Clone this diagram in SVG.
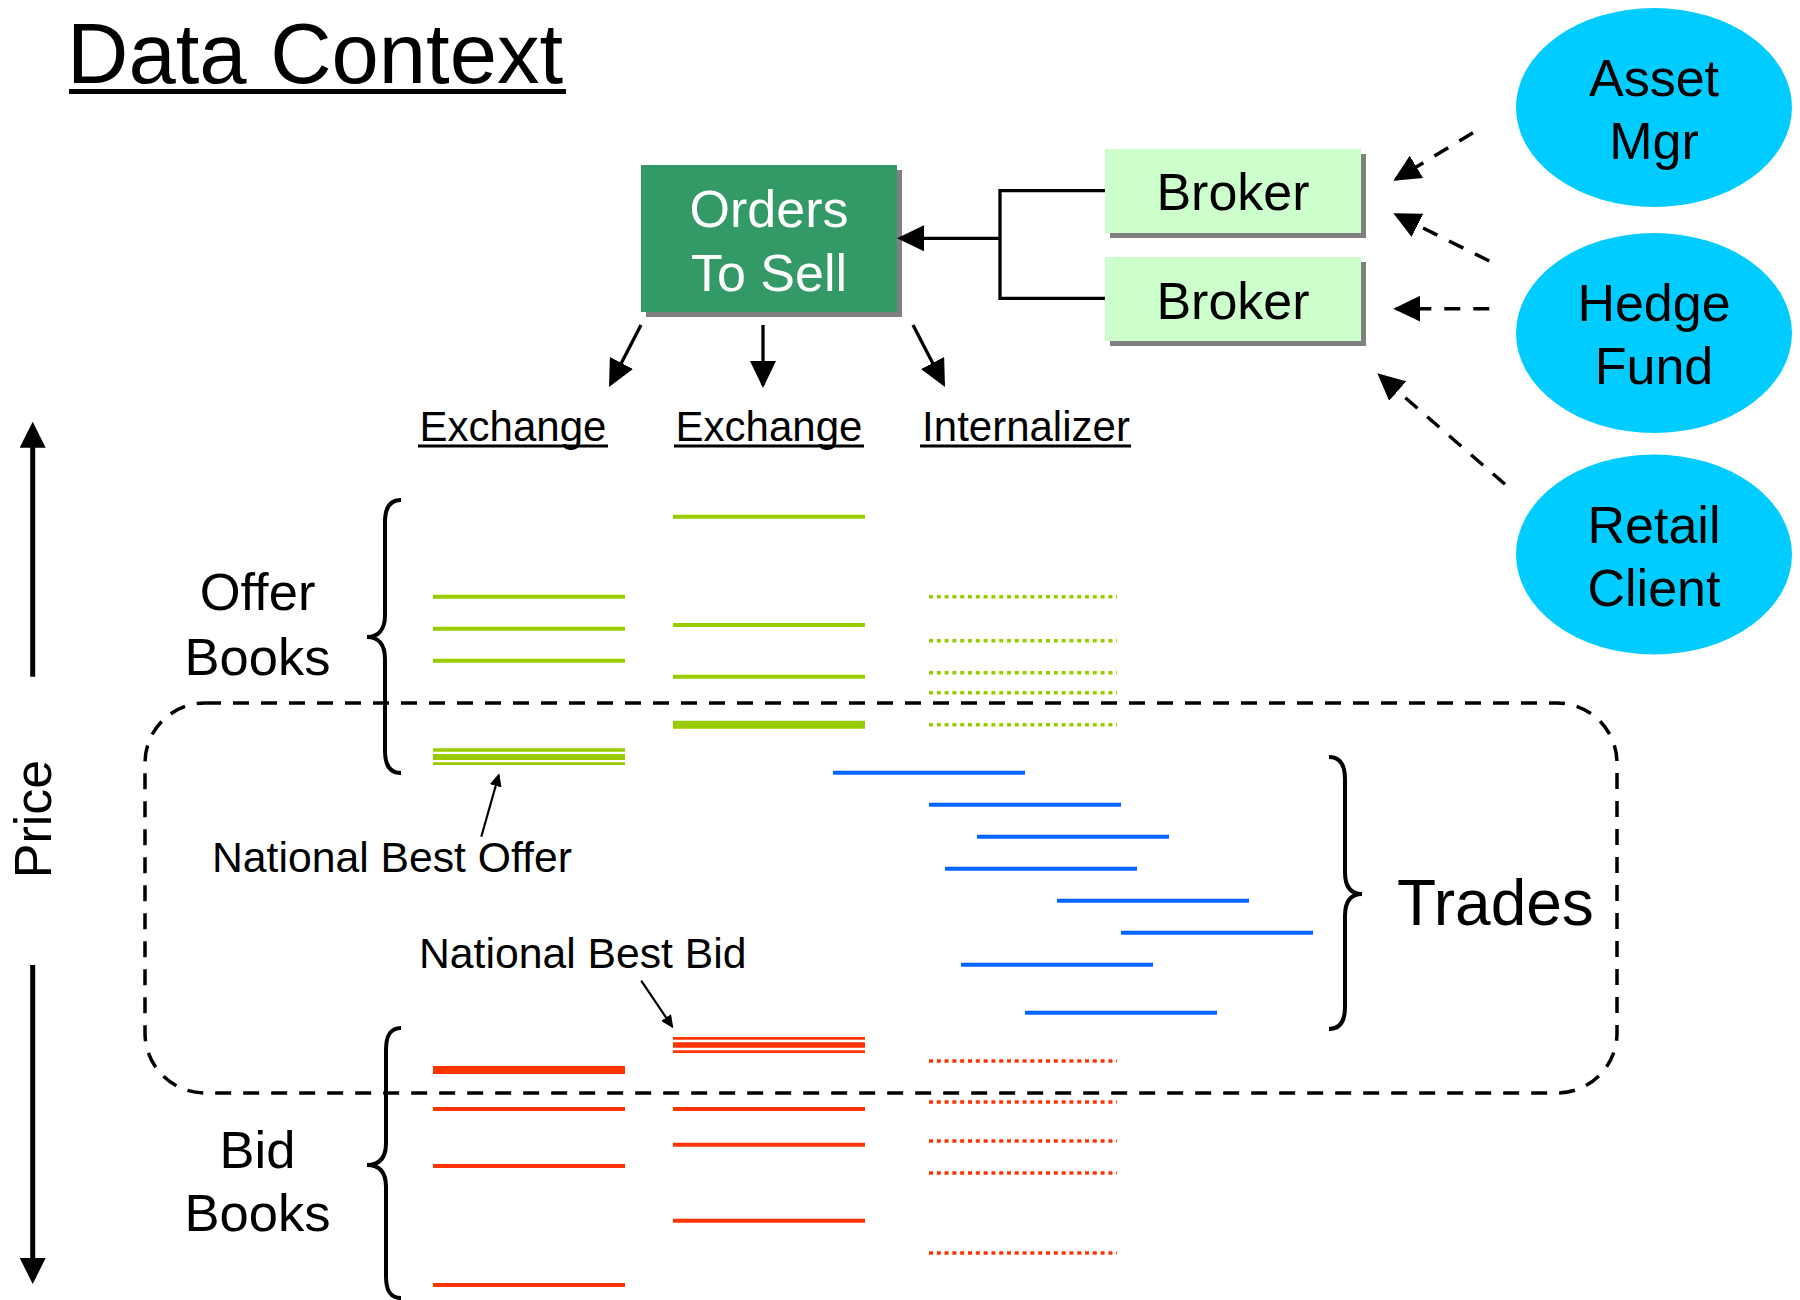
<svg xmlns="http://www.w3.org/2000/svg" width="1800" height="1300" viewBox="0 0 1800 1300">
<style>
text{font-family:"Liberation Sans",Arial,Helvetica,sans-serif;fill:#000}
.t52{font-size:52px}
.t42{font-size:42px}
.t43{font-size:42.7px}
.wt{fill:#fff}
.c{text-anchor:middle}
.conn{stroke:#000;stroke-width:3.3;fill:none}
.dash{stroke:#000;stroke-width:3.5;fill:none;stroke-dasharray:16 13}
.ul{stroke:#000;stroke-width:3}
.brace{stroke:#000;stroke-width:4;fill:none}
.g{stroke:#99CC00;stroke-width:4}
.r{stroke:#FF3300;stroke-width:4}
.b{stroke:#0066FF;stroke-width:4}
.dot{stroke-dasharray:4 3.8;stroke-width:3.5}
.shadow{fill:#808080}
.ell{fill:#00CCFF}
</style>
<defs>
<marker id="ah" viewBox="0 0 27 26" refX="24" refY="13" markerWidth="27" markerHeight="26" orient="auto" markerUnits="userSpaceOnUse"><path d="M0,0 L27,13 L0,26 z" fill="#000"/></marker>
<marker id="ahp" viewBox="0 0 26 26" refX="21" refY="13" markerWidth="26" markerHeight="26" orient="auto" markerUnits="userSpaceOnUse"><path d="M0,0 L26,13 L0,26 z" fill="#000"/></marker>
<marker id="ahs" viewBox="0 0 13 12" refX="11" refY="6" markerWidth="13" markerHeight="12" orient="auto" markerUnits="userSpaceOnUse"><path d="M0,0 L13,6 L0,12 z" fill="#000"/></marker>
</defs>
<rect width="1800" height="1300" fill="#fff"/>

<g id="title">
<text x="67" y="83" style="font-size:85px">Data Context</text>
<line x1="69" y1="91.5" x2="566" y2="91.5" stroke="#000" stroke-width="5"/>
</g>

<g id="orders-to-sell">
<rect class="shadow" x="646" y="170" width="256" height="147"/>
<rect x="641" y="165" width="256" height="147" fill="#339966"/>
<text class="t52 wt c" x="769" y="227">Orders</text>
<text class="t52 wt c" x="769" y="291">To Sell</text>
</g>

<g id="broker-1">
<rect class="shadow" x="1110" y="154" width="256" height="84"/>
<rect x="1105" y="149" width="256" height="84" fill="#CCFFCC"/>
<text class="t52 c" x="1233" y="210">Broker</text>
</g>
<g id="broker-2">
<rect class="shadow" x="1110" y="262" width="256" height="84"/>
<rect x="1105" y="257" width="256" height="84" fill="#CCFFCC"/>
<text class="t52 c" x="1233" y="318.5">Broker</text>
</g>

<g id="asset-mgr">
<ellipse class="ell" cx="1654" cy="107.5" rx="138" ry="99.5"/>
<text class="t52 c" x="1654" y="96">Asset</text>
<text class="t52 c" x="1654" y="159">Mgr</text>
</g>
<g id="hedge-fund">
<ellipse class="ell" cx="1654" cy="333" rx="138" ry="100"/>
<text class="t52 c" x="1654" y="321">Hedge</text>
<text class="t52 c" x="1654" y="384">Fund</text>
</g>
<g id="retail-client">
<ellipse class="ell" cx="1654" cy="554.5" rx="138" ry="100"/>
<text class="t52 c" x="1654" y="543">Retail</text>
<text class="t52 c" x="1654" y="606">Client</text>
</g>

<g id="venue-exchange-1">
<text class="t42 c" x="513" y="440.5">Exchange</text>
<line class="ul" x1="418" y1="446" x2="608" y2="446"/>
</g>
<g id="venue-exchange-2">
<text class="t42 c" x="769" y="440.5">Exchange</text>
<line class="ul" x1="674" y1="446" x2="864" y2="446"/>
</g>
<g id="venue-internalizer">
<text class="t42 c" x="1026" y="440.5">Internalizer</text>
<line class="ul" x1="920" y1="446" x2="1131" y2="446"/>
</g>

<g id="price-axis">
<text class="c" style="font-size:52px" transform="translate(51,819) rotate(-90)">Price</text>
</g>

<g id="offer-books">
<text class="c" style="font-size:52.5px" x="257.5" y="610">Offer</text>
<text class="c" style="font-size:52.5px" x="257.5" y="675">Books</text>
<path class="brace" d="M401,500 C390,500 385,508 385,522 L385,615 C385,630 378,637 367,637 C378,637 385,644 385,659 L385,751 C385,765 390,773 401,773"/>
</g>
<g id="bid-books">
<text class="c" style="font-size:52.5px" x="257.5" y="1168">Bid</text>
<text class="c" style="font-size:52.5px" x="257.5" y="1231">Books</text>
<path class="brace" d="M401,1028 C390,1028 386,1036 386,1050 L386,1143 C386,1158 379,1165 367,1165 C379,1165 386,1172 386,1187 L386,1276 C386,1290 390,1298 401,1298"/>
</g>
<g id="trades">
<text x="1397" y="925" style="font-size:64px">Trades</text>
<path class="brace" d="M1329,757 C1340,757 1345,765 1345,779 L1345,872 C1345,887 1351,894 1362,894 C1351,894 1345,901 1345,916 L1345,1007 C1345,1021 1340,1029 1329,1029"/>
</g>

<g id="offer-lines">
<line class="g" x1="433" y1="596.7" x2="625" y2="596.7"/>
<line class="g" x1="433" y1="628.7" x2="625" y2="628.7"/>
<line class="g" x1="433" y1="660.7" x2="625" y2="660.7"/>
<line class="g" x1="433" y1="750" x2="625" y2="750" style="stroke-width:3.4"/>
<line class="g" x1="433" y1="757" x2="625" y2="757" style="stroke-width:6"/>
<line class="g" x1="433" y1="763.7" x2="625" y2="763.7" style="stroke-width:2.7"/>
<line class="g" x1="673" y1="516.7" x2="865" y2="516.7"/>
<line class="g" x1="673" y1="625" x2="865" y2="625"/>
<line class="g" x1="673" y1="676.7" x2="865" y2="676.7"/>
<line class="g" x1="673" y1="724.7" x2="865" y2="724.7" style="stroke-width:8"/>
<line class="g dot" x1="929" y1="596.7" x2="1117" y2="596.7"/>
<line class="g dot" x1="929" y1="640.7" x2="1117" y2="640.7"/>
<line class="g dot" x1="929" y1="672.7" x2="1117" y2="672.7"/>
<line class="g dot" x1="929" y1="692.7" x2="1117" y2="692.7"/>
<line class="g dot" x1="929" y1="724.7" x2="1117" y2="724.7"/>
</g>

<g id="trade-lines">
<line class="b" x1="833" y1="772.7" x2="1025" y2="772.7"/>
<line class="b" x1="929" y1="804.7" x2="1121" y2="804.7"/>
<line class="b" x1="977" y1="836.7" x2="1169" y2="836.7"/>
<line class="b" x1="945" y1="868.7" x2="1137" y2="868.7"/>
<line class="b" x1="1057" y1="900.7" x2="1249" y2="900.7"/>
<line class="b" x1="1121" y1="932.7" x2="1313" y2="932.7"/>
<line class="b" x1="961" y1="964.7" x2="1153" y2="964.7"/>
<line class="b" x1="1025" y1="1012.7" x2="1217" y2="1012.7"/>
</g>

<g id="bid-lines">
<line class="r" x1="433" y1="1070" x2="625" y2="1070" style="stroke-width:8"/>
<line class="r" x1="433" y1="1109" x2="625" y2="1109"/>
<line class="r" x1="433" y1="1166" x2="625" y2="1166"/>
<line class="r" x1="433" y1="1285" x2="625" y2="1285"/>
<line class="r" x1="673" y1="1038.3" x2="865" y2="1038.3" style="stroke-width:2.7"/>
<line class="r" x1="673" y1="1045" x2="865" y2="1045" style="stroke-width:5.3"/>
<line class="r" x1="673" y1="1051.7" x2="865" y2="1051.7" style="stroke-width:2.7"/>
<line class="r" x1="673" y1="1109" x2="865" y2="1109"/>
<line class="r" x1="673" y1="1144.7" x2="865" y2="1144.7"/>
<line class="r" x1="673" y1="1220.7" x2="865" y2="1220.7"/>
<line class="r dot" x1="929" y1="1061" x2="1117" y2="1061"/>
<line class="r dot" x1="929" y1="1102" x2="1117" y2="1102"/>
<line class="r dot" x1="929" y1="1141" x2="1117" y2="1141"/>
<line class="r dot" x1="929" y1="1173" x2="1117" y2="1173"/>
<line class="r dot" x1="929" y1="1253" x2="1117" y2="1253"/>
</g>

<g id="nbo-label">
<text class="t43" x="212" y="872">National Best Offer</text>
</g>
<g id="nbb-label">
<text class="t43" x="419" y="968">National Best Bid</text>
</g>

<g id="trade-zone">
<rect class="dash" x="145" y="703" width="1472" height="390" rx="60" ry="60" style="stroke-dasharray:16 12"/>
</g>

<g id="connectors">
<polyline class="conn" points="1105,190.7 1000,190.7 1000,298.3 1105,298.3"/>
<line class="conn" x1="1000" y1="238.3" x2="900" y2="238.3" marker-end="url(#ah)"/>
<line class="conn" x1="641" y1="325" x2="610.4" y2="384.3" marker-end="url(#ah)"/>
<line class="conn" x1="763" y1="325" x2="763" y2="385" marker-end="url(#ah)"/>
<line class="conn" x1="913" y1="325" x2="943.6" y2="384.3" marker-end="url(#ah)"/>
<line class="dash" x1="1473" y1="132.7" x2="1395.9" y2="179.2" marker-end="url(#ah)"/>
<line class="dash" x1="1489.3" y1="261" x2="1396" y2="214.6" marker-end="url(#ah)"/>
<line class="dash" x1="1489.3" y1="308.7" x2="1396.3" y2="308.7" marker-end="url(#ah)"/>
<line class="dash" x1="1505" y1="484.3" x2="1379.6" y2="375.3" marker-end="url(#ah)"/>
<line stroke="#000" stroke-width="5" x1="32.7" y1="676.7" x2="32.7" y2="426.7" marker-end="url(#ahp)"/>
<line stroke="#000" stroke-width="5" x1="32.7" y1="965" x2="32.7" y2="1279" marker-end="url(#ahp)"/>
<line stroke="#000" stroke-width="2.2" x1="481.3" y1="836.7" x2="498.7" y2="775.2" marker-end="url(#ahs)"/>
<line stroke="#000" stroke-width="2.2" x1="641.2" y1="980.7" x2="672.2" y2="1026.6" marker-end="url(#ahs)"/>
</g>
</svg>
